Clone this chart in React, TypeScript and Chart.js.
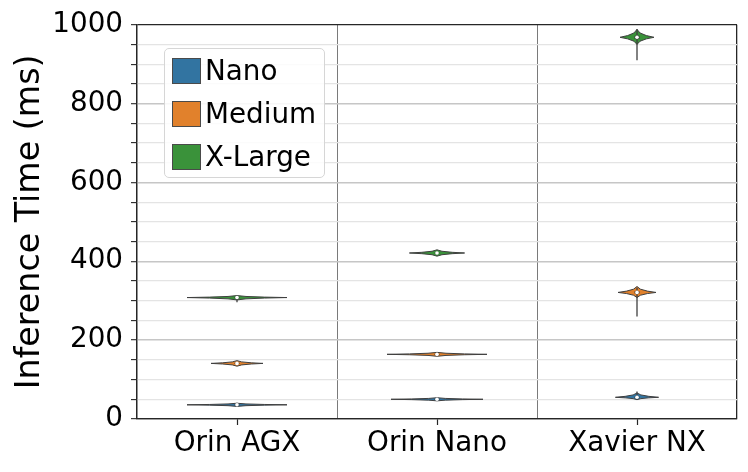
import React, { useEffect, useRef } from 'react';
import { Chart, registerables } from 'chart.js';

Chart.register(...registerables);

// ---- data ----
const categories = ['Orin AGX', 'Orin Nano', 'Xavier NX'];
const seriesNames = ['Nano', 'Medium', 'X-Large'];
const seriesColors = ['#3274a1', '#e1812c', '#3a923a'];

// Nano model (ms)
const nanoMedian = [36, 50, 55];
const nanoQ1 = [34.5, 48.5, 53.5];
const nanoQ3 = [37.5, 51.5, 57];
const nanoMin = [34, 48, 52];
const nanoMax = [41, 53, 70];
const nanoKdeLow = [32, 46, 49];
const nanoKdeHigh = [40, 54, 66];
const nanoWidth = [0.25, 0.23, 0.108];

// Medium model (ms)
const mediumMedian = [141, 164, 321];
const mediumQ1 = [139.5, 162.5, 318];
const mediumQ3 = [142.5, 165.5, 324];
const mediumMin = [138, 161, 260];
const mediumMax = [145, 167, 333];
const mediumKdeLow = [134, 159, 308];
const mediumKdeHigh = [148, 169, 336];
const mediumWidth = [0.13, 0.25, 0.095];

// X-Large model (ms)
const xlMedian = [308, 421, 968];
const xlQ1 = [306.5, 419.5, 964];
const xlQ3 = [309.5, 422.5, 972];
const xlMin = [296, 417, 910];
const xlMax = [311, 425, 989];
const xlKdeLow = [302, 413, 950];
const xlKdeHigh = [313, 429, 988];
const xlWidth = [0.25, 0.138, 0.085];

const yTickValues = [0, 200, 400, 600, 800, 1000];

const seriesTable = [
  { median: nanoMedian, q1: nanoQ1, q3: nanoQ3, min: nanoMin, max: nanoMax, lo: nanoKdeLow, hi: nanoKdeHigh, w: nanoWidth },
  { median: mediumMedian, q1: mediumQ1, q3: mediumQ3, min: mediumMin, max: mediumMax, lo: mediumKdeLow, hi: mediumKdeHigh, w: mediumWidth },
  { median: xlMedian, q1: xlQ1, q3: xlQ3, min: xlMin, max: xlMax, lo: xlKdeLow, hi: xlKdeHigh, w: xlWidth },
];

const FONT = "'DejaVu Sans', 'Liberation Sans', sans-serif";
const EDGE = '#3f3f3f';
const SPINE = '#262626';

function violinOutline(c: number, lo: number, mode: number, hi: number, w: number) {
  const up = hi - mode;
  const dn = mode - lo;
  const right: [number, number][] = [
    [hi, 0],
    [mode + 0.55 * up, 0.18 * w],
    [mode + 0.22 * up, 0.55 * w],
    [mode, w],
    [mode - 0.22 * dn, 0.55 * w],
    [mode - 0.55 * dn, 0.18 * w],
    [lo, 0],
  ];
  const r = right.map(([y, dx]) => ({ x: c + dx, y }));
  const l = right.slice(1, -1).reverse().map(([y, dx]) => ({ x: c - dx, y }));
  return [...r, ...l, r[0]];
}

export default function App() {
  const canvasRef = useRef<HTMLCanvasElement | null>(null);

  useEffect(() => {
    if (!canvasRef.current) return;
    const datasets: any[] = [];
    seriesTable.forEach((s, si) => {
      categories.forEach((_, ci) => {
        const c = ci + 0.5;
        datasets.push({
          type: 'line',
          data: violinOutline(c, s.lo[ci], s.median[ci], s.hi[ci], s.w[ci]),
          showLine: true,
          fill: 'shape',
          backgroundColor: seriesColors[si],
          borderColor: EDGE,
          borderWidth: 1,
          pointRadius: 0,
          tension: 0,
          order: 3,
        });
        datasets.push({
          type: 'line',
          data: [{ x: c, y: s.min[ci] }, { x: c, y: s.max[ci] }],
          showLine: true,
          fill: false,
          borderColor: EDGE,
          borderWidth: 1.3,
          pointRadius: 0,
          order: 2,
        });
        datasets.push({
          type: 'line',
          data: [{ x: c, y: s.q1[ci] }, { x: c, y: s.q3[ci] }],
          showLine: true,
          fill: false,
          borderColor: EDGE,
          borderWidth: 5,
          borderCapStyle: 'butt',
          pointRadius: 0,
          order: 1,
        });
        datasets.push({
          type: 'scatter',
          data: [{ x: c, y: s.median[ci] }],
          pointRadius: 1.8,
          pointBackgroundColor: '#ffffff',
          pointBorderWidth: 0,
          order: 0,
        });
      });
    });

    const chart = new Chart(canvasRef.current, {
      type: 'scatter',
      data: { datasets },
      options: {
        animation: false,
        responsive: false,
        events: [],
        layout: { padding: { top: 22, right: 11, left: 0, bottom: 0 } },
        plugins: { legend: { display: false }, tooltip: { enabled: false } },
        scales: {
          x: {
            type: 'linear',
            min: 0,
            max: 3,
            afterBuildTicks: (scale: any) => {
              scale.ticks = [0, 0.5, 1, 1.5, 2, 2.5, 3].map((v) => ({ value: v }));
            },
            afterFit: (scale: any) => {
              scale.height = 53;
            },
            ticks: {
              autoSkip: false,
              maxRotation: 0,
              padding: 2,
              color: '#000',
              font: { family: FONT, size: 27.8 },
              callback: (v: any) => {
                const n = Number(v);
                return n % 1 === 0.5 ? categories[Math.floor(n)] : '';
              },
            },
            grid: {
              drawOnChartArea: true,
              tickLength: 6,
              color: (ctx: any) => {
                const v = ctx.tick ? ctx.tick.value : 0;
                if (v === 0 || v === 3) return SPINE;
                if (v === 1 || v === 2) return '#7a7a7a';
                return 'rgba(0,0,0,0)';
              },
              lineWidth: (ctx: any) => {
                const v = ctx.tick ? ctx.tick.value : 0;
                if (v === 0 || v === 3) return 1.3;
                return 1;
              },
              tickColor: (ctx: any) => {
                const v = ctx.tick ? ctx.tick.value : 0;
                return v % 1 === 0.5 ? SPINE : 'rgba(0,0,0,0)';
              },
              tickWidth: 1.2,
            },
            border: { display: true, color: SPINE, width: 1.3 },
          },
          y: {
            type: 'linear',
            min: 0,
            max: 1000,
            afterFit: (scale: any) => {
              scale.width = 137;
            },
            ticks: {
              stepSize: 50,
              autoSkip: false,
              padding: 8,
              color: '#000',
              font: { family: FONT, size: 27.8 },
              callback: (v: any) => (yTickValues.includes(Number(v)) ? String(v) : ''),
            },
            title: {
              display: true,
              text: 'Inference Time (ms)',
              color: '#000',
              font: { family: FONT, size: 33.3 },
              padding: { top: 10, bottom: 0 },
            },
            grid: {
              tickLength: 6,
              color: (ctx: any) => {
                const v = ctx.tick ? ctx.tick.value : 0;
                if (v === 0 || v === 1000) return SPINE;
                if (v % 200 === 0) return '#c6c6c6';
                return '#e4e4e4';
              },
              lineWidth: (ctx: any) => {
                const v = ctx.tick ? ctx.tick.value : 0;
                if (v === 0 || v === 1000) return 1.3;
                if (v % 200 === 0) return 1.4;
                return 1.2;
              },
              tickColor: SPINE,
              tickWidth: 1.1,
            },
            border: { display: true, color: SPINE, width: 1.3 },
          },
        },
      },
    } as any);
    return () => chart.destroy();
  }, []);

  return (
    <div style={{ position: 'absolute', left: 0, top: 0, width: 748, height: 472, background: '#fff' }}>
      <canvas ref={canvasRef} width={748} height={472} style={{ width: 748, height: 472, display: 'block' }} />
      <div
        style={{
          position: 'absolute',
          left: 164,
          top: 48,
          width: 161,
          height: 130,
          border: '1px solid #d6d6d6',
          borderRadius: 5,
          background: 'rgba(255,255,255,0.85)',
          boxSizing: 'border-box',
          fontFamily: FONT,
          fontSize: 27.8,
          color: '#000',
        }}
      >
        {seriesNames.map((name, i) => (
          <div
            key={name}
            style={{ position: 'absolute', left: 7, top: 8 + i * 43, height: 27, display: 'flex', alignItems: 'center', whiteSpace: 'nowrap' }}
          >
            <span
              style={{
                display: 'inline-block',
                width: 29,
                height: 26,
                background: seriesColors[i],
                border: '1px solid #4a4a4a',
                boxSizing: 'border-box',
                marginRight: 4,
              }}
            />
            <span style={{ lineHeight: '27px' }}>{name}</span>
          </div>
        ))}
      </div>
    </div>
  );
}
